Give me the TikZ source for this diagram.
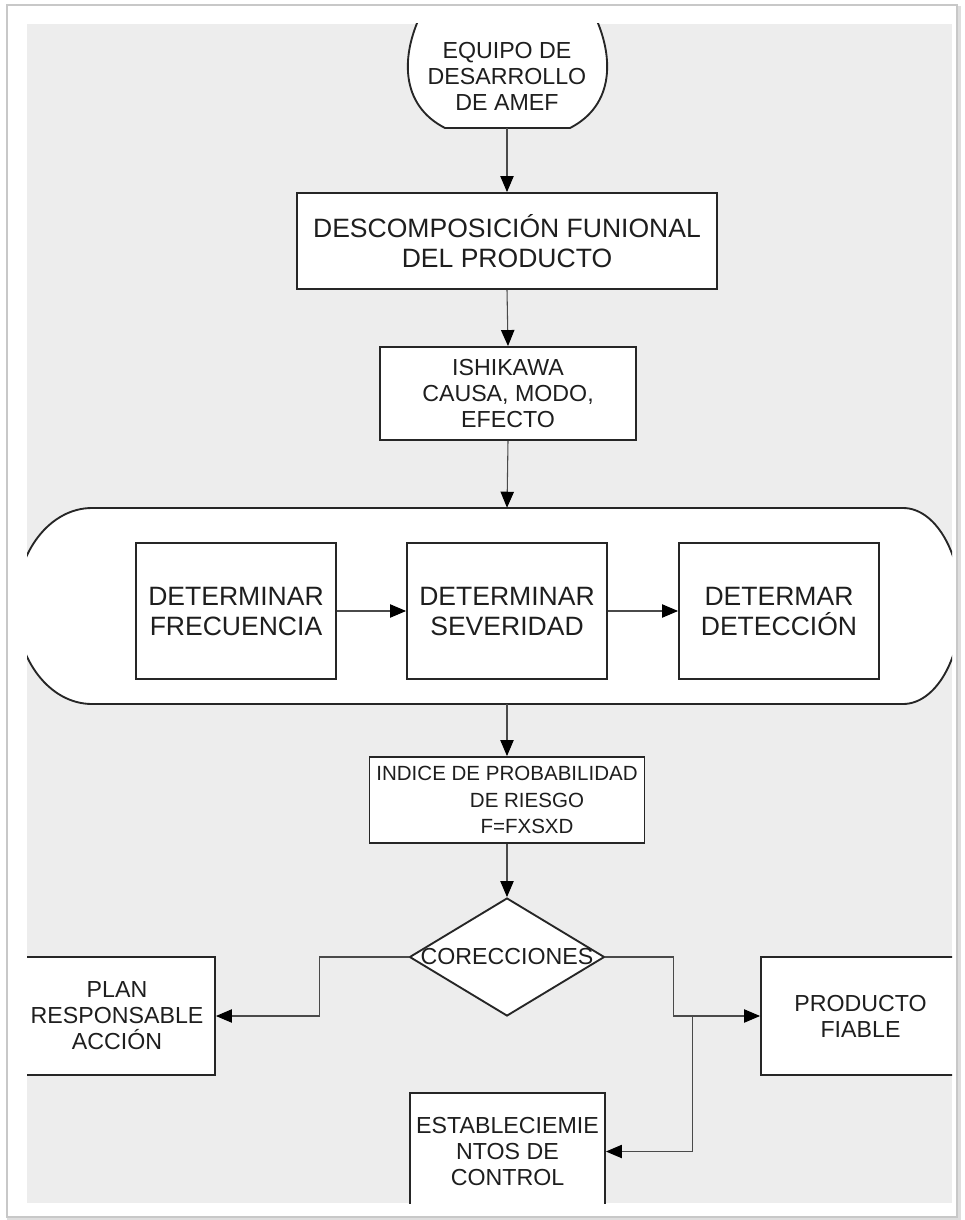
\documentclass[tikz,border=0pt]{standalone}
\usepackage{fontspec}
\setmainfont{Liberation Sans}
\usetikzlibrary{arrows.meta,shapes.geometric}

\definecolor{paperedge}{HTML}{C8C8C8}
\definecolor{sheet}{HTML}{EDEDED}
\definecolor{boxline}{HTML}{262626}
\definecolor{connline}{HTML}{4A4A4A}
\definecolor{txt}{HTML}{1E1E1E}

\begin{document}
\begin{tikzpicture}[x=0.75pt,y=-0.75pt,
  box/.style={draw=boxline, line width=1.4pt, fill=white, inner sep=0pt,
              align=center, text=txt},
  outline/.style={draw=boxline, line width=1.4pt, fill=white},
  conn/.style={draw=connline, line width=0.8pt,
               -{Triangle[width=10pt,length=12pt,color=black]}},
  plainline/.style={draw=connline, line width=0.8pt},
  fbig/.style={font=\fontsize{19.9}{22.5}\selectfont},
  fmid/.style={font=\fontsize{17.4}{19.5}\selectfont},
  fsmall/.style={font=\fontsize{15.4}{20}\selectfont},
  dia/.style={shape=diamond, draw=boxline, line width=1.4pt, fill=white,
              inner sep=0pt, minimum width=146.25pt, minimum height=88.5pt,
              text=txt}
]
\useasboundingbox (0,0) rectangle (964,1220);

% paper sheet with its frame
\fill[white] (0,0) rectangle (964,1220);
\draw[paperedge!60, line width=3pt] (9,8) rectangle (959,1219);
\draw[paperedge, line width=1.2pt] (7,5) rectangle (957,1217);
\fill[white] (8,6) rectangle (956,1216);
\fill[sheet] (27,24) rectangle (952,1203);

\begin{scope}
\clip (27,24) rectangle (952,1203);

% start terminal outline
\draw[outline] (423,10) .. controls (400,55) and (400,105) .. (445,128)
   -- (570,128) .. controls (615,105) and (615,55) .. (592,10);

% wide rounded group outline
\draw[outline] (92,508) -- (903,508)
   .. controls (935,508) and (961,552) .. (961,606)
   .. controls (961,660) and (935,704) .. (903,704)
   -- (92,704)
   .. controls (50,704) and (16,660) .. (16,606)
   .. controls (16,552) and (50,508) .. (92,508) -- cycle;

% nodes
\node[fmid, align=center, text=txt, inner sep=0pt, minimum height=78pt]
  (start) at (507,76) {EQUIPO DE\\DESARROLLO\\DE AMEF};

\node[box, fbig, minimum width=315pt, minimum height=72pt]
  (desc) at (507,241) {DESCOMPOSICIÓN FUNIONAL\\DEL PRODUCTO};

\node[box, fmid, minimum width=192pt, minimum height=69.75pt]
  (ishi) at (508,393.5) {ISHIKAWA\\CAUSA, MODO,\\EFECTO};

\node[inner sep=0pt, minimum width=712pt, minimum height=147pt]
  (stad) at (507,606) {};

\node[box, fbig, minimum width=150pt, minimum height=102pt]
  (frec) at (236,611) {DETERMINAR\\FRECUENCIA};
\node[box, fbig, minimum width=150pt, minimum height=102pt]
  (sev) at (507,611) {DETERMINAR\\SEVERIDAD};
\node[box, fbig, minimum width=150pt, minimum height=102pt]
  (det) at (779,611) {DETERMAR\\DETECCIÓN};

\node[box, fsmall, minimum width=206.25pt, minimum height=64.5pt]
  (ipr) at (507,800)
  {INDICE DE PROBABILIDAD\\\hspace*{30pt}DE RIESGO\\\hspace*{30pt}F=FXSXD};

\node[dia, fmid] (corr) at (507,957) {\makebox[0pt]{CORECCIONES}};

\node[box, fmid, minimum width=147pt, minimum height=88.5pt]
  (plan) at (117,1016) {PLAN\\RESPONSABLE\\ACCIÓN};

\node[box, fmid, minimum width=149.25pt, minimum height=88.5pt]
  (prod) at (860.5,1016) {PRODUCTO\\FIABLE};

\node[box, fmid, minimum width=146.25pt, minimum height=87.75pt]
  (estab) at (507.5,1151.5) {ESTABLECIEMIE\\NTOS DE\\CONTROL};

% connectors
\draw[conn] (start.south) -- (desc.north);
\draw[conn] (desc.south) -- (ishi.north);
\draw[conn] (ishi.south) -- (stad.north);
\draw[conn] (frec.east) -- (sev.west);
\draw[conn] (sev.east) -- (det.west);
\draw[conn] (stad.south) -- (ipr.north);
\draw[conn] (ipr.south) -- (corr.north);
\draw[conn] (corr.west) -- ++(-89,0) |- (plan.east);
\draw[conn] (corr.east) -- ++(68,0) |- (prod.west);
\path (prod.west) ++(-68,0) coordinate (split);
\draw[conn] (split) |- (estab.east);
\end{scope}
\end{tikzpicture}
\end{document}
